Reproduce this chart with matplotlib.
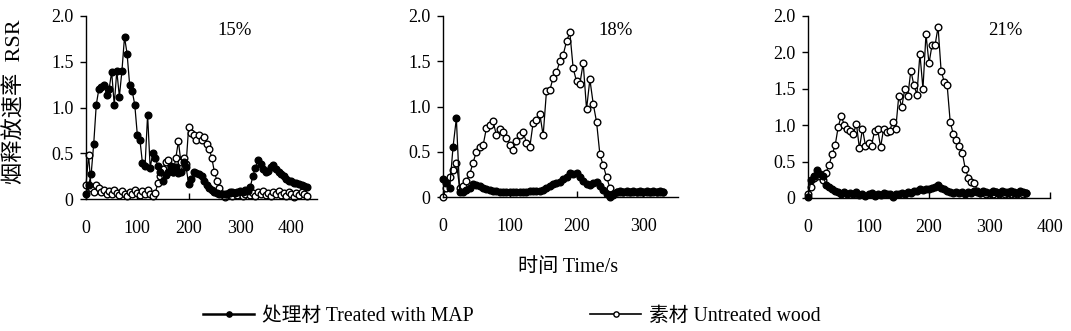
import numpy as np
import matplotlib
matplotlib.use("Agg")
import matplotlib.pyplot as plt
from matplotlib.lines import Line2D

FAM = ['Liberation Serif', 'Noto Sans CJK SC']
plt.rcParams['font.family'] = FAM

# ---------------- data ----------------
t15 = np.arange(0, 435, 5)
treated15 = [0.05, 0.15, 0.27, 0.60, 1.03, 1.20, 1.22, 1.25, 1.14, 1.20,
             1.39, 1.03, 1.40, 1.12, 1.40, 1.77, 1.59, 1.25, 1.18, 1.03,
             0.70, 0.65, 0.39, 0.36, 0.92, 0.34, 0.50, 0.45, 0.36, 0.30,
             0.20, 0.26, 0.30, 0.36, 0.30, 0.35, 0.28, 0.30, 0.40, 0.35,
             0.16, 0.22, 0.30, 0.28, 0.27, 0.25, 0.20, 0.15, 0.12, 0.10,
             0.08, 0.07, 0.06, 0.05, 0.05, 0.06, 0.07, 0.08, 0.07, 0.08,
             0.09, 0.08, 0.10, 0.09, 0.13, 0.25, 0.34, 0.43, 0.38, 0.33,
             0.30, 0.31, 0.35, 0.37, 0.33, 0.30, 0.27, 0.25, 0.22, 0.20,
             0.20, 0.18, 0.17, 0.16, 0.15, 0.14, 0.13]
untreated15 = [0.15, 0.48, 0.12, 0.08, 0.15, 0.12, 0.08, 0.10, 0.06, 0.09,
               0.05, 0.10, 0.07, 0.04, 0.09, 0.06, 0.03, 0.08, 0.05, 0.10,
               0.07, 0.04, 0.09, 0.05, 0.10, 0.06, 0.03, 0.07, 0.17, 0.25,
               0.33, 0.40, 0.43, 0.35, 0.30, 0.45, 0.63, 0.40, 0.45, 0.38,
               0.79, 0.72, 0.70, 0.65, 0.70, 0.65, 0.68, 0.60, 0.55, 0.45,
               0.30, 0.20, 0.12, 0.06, 0.02, 0.05, 0.08, 0.03, 0.07, 0.04,
               0.08, 0.03, 0.06, 0.09, 0.04, 0.07, 0.03, 0.08, 0.05, 0.09,
               0.04, 0.07, 0.03, 0.08, 0.05, 0.09, 0.04, 0.07, 0.03, 0.08,
               0.05, 0.02, 0.07, 0.04, 0.08, 0.05, 0.03]

t18 = np.arange(0, 335, 5)
treated18 = [0.20, 0.15, 0.10, 0.55, 0.87, 0.05, 0.05, 0.08, 0.10, 0.14,
             0.13, 0.12, 0.10, 0.09, 0.08, 0.07, 0.07, 0.06, 0.06, 0.06,
             0.06, 0.06, 0.06, 0.06, 0.06, 0.06, 0.07, 0.07, 0.07, 0.07,
             0.08, 0.10, 0.12, 0.14, 0.16, 0.17, 0.20, 0.22, 0.27, 0.25,
             0.27, 0.22, 0.18, 0.14, 0.13, 0.15, 0.17, 0.12, 0.08, 0.03,
             0.00, 0.03, 0.06, 0.07, 0.06, 0.07, 0.06, 0.07, 0.06, 0.07,
             0.06, 0.07, 0.06, 0.07, 0.06, 0.07, 0.06]
untreated18 = [0.00, 0.10, 0.22, 0.30, 0.38, 0.10, 0.12, 0.18, 0.25, 0.38,
               0.50, 0.55, 0.57, 0.76, 0.80, 0.84, 0.68, 0.75, 0.72, 0.65,
               0.58, 0.52, 0.62, 0.68, 0.72, 0.60, 0.55, 0.82, 0.85, 0.92,
               0.68, 1.17, 1.18, 1.32, 1.38, 1.50, 1.57, 1.72, 1.82, 1.42,
               1.28, 1.25, 1.48, 0.97, 1.30, 1.03, 0.83, 0.47, 0.35, 0.22,
               0.10, 0.02, 0.05, 0.06, 0.05, 0.06, 0.05, 0.06, 0.05, 0.06,
               0.05, 0.06, 0.05, 0.06, 0.05, 0.06, 0.05]

t21 = np.arange(0, 365, 5)
treated21 = [0.02, 0.25, 0.30, 0.38, 0.33, 0.30, 0.18, 0.15, 0.12, 0.10,
             0.08, 0.05, 0.08, 0.06, 0.07, 0.05, 0.08, 0.04, 0.06, 0.03,
             0.05, 0.07, 0.03, 0.06, 0.04, 0.07, 0.05, 0.06, 0.02, 0.06,
             0.05, 0.07, 0.06, 0.08, 0.07, 0.09, 0.10, 0.12, 0.11, 0.13,
             0.12, 0.14, 0.15, 0.18, 0.14, 0.12, 0.10, 0.08, 0.07, 0.08,
             0.07, 0.08, 0.06, 0.08, 0.07, 0.09, 0.08, 0.07, 0.09, 0.08,
             0.07, 0.09, 0.08, 0.07, 0.09, 0.08, 0.07, 0.09, 0.08, 0.07,
             0.09, 0.08, 0.07]
untreated21 = [0.05, 0.15, 0.28, 0.30, 0.30, 0.25, 0.35, 0.46, 0.60, 0.73,
               0.98, 1.13, 1.00, 0.95, 0.92, 0.88, 1.02, 0.68, 0.95, 0.72,
               0.75, 0.72, 0.92, 0.95, 0.70, 0.95, 0.90, 0.92, 1.05, 0.95,
               1.40, 1.25, 1.50, 1.40, 1.75, 1.55, 1.42, 1.98, 1.50, 2.25,
               1.85, 2.10, 2.10, 2.35, 1.75, 1.60, 1.55, 1.05, 0.88, 0.80,
               0.72, 0.62, 0.40, 0.28, 0.22, 0.20, 0.10, 0.07, 0.08, 0.06,
               0.07, 0.05, 0.08, 0.06, 0.07, 0.05, 0.08, 0.06, 0.07, 0.05,
               0.08, 0.06, 0.07]

panel_titles = ['15%', '18%', '21%']
xticks_list = [[0, 100, 200, 300, 400], [0, 100, 200, 300], [0, 100, 200, 300, 400]]
yticks_list = [[0, 0.5, 1.0, 1.5, 2.0], [0, 0.5, 1.0, 1.5, 2.0], [0, 0.5, 1.0, 1.5, 2.0, 2.5]]
ytick_labels = [['0', '0.5', '1.0', '1.5', '2.0'], ['0', '0.5', '1.0', '1.5', '2.0'],
                ['0', '0.5', '1.0', '1.5', '2.0', '2.0']]
legend_labels = ['处理材 Treated with MAP', '素材 Untreated wood']
ylabel = '烟释放速率  RSR'
xlabel = '时间 Time/s'

series = [(t15, treated15, untreated15), (t18, treated18, untreated18), (t21, treated21, untreated21)]

# ---------------- layout ----------------
W, H = 1071, 331
fig = plt.figure(figsize=(W / 100, H / 100), dpi=100)

boxes = [(86, 317, 16, 199), (443, 678, 16, 197), (808, 1050, 16, 198)]
xlims = [450, 352, 400]
ylims = [2.0, 2.0, 2.5]
title_x = [0.645, 0.736, 0.814]

fs = 13
axes = []
for i, (x0, x1, y0, y1) in enumerate(boxes):
    ax = fig.add_axes([x0 / W, 1 - y1 / H, (x1 - x0) / W, (y1 - y0) / H])
    t, tr, un = series[i]
    ax.plot(t, un, '-', color='black', lw=0.9, marker='o', ms=4.8,
            mfc='white', mec='black', mew=1.0, zorder=2, clip_on=False)
    ax.plot(t, tr, '-', color='black', lw=0.9, marker='o', ms=4.8,
            mfc='black', mec='black', mew=1.0, zorder=3, clip_on=False)
    ax.set_xlim(0, xlims[i])
    ax.set_ylim(0, ylims[i])
    ax.set_xticks(xticks_list[i])
    ax.set_yticks(yticks_list[i])
    ax.set_yticklabels(ytick_labels[i])
    for s in ['top', 'right']:
        ax.spines[s].set_visible(False)
    for s in ['left', 'bottom']:
        ax.spines[s].set_linewidth(1.0)
    ax.tick_params(axis='x', direction='in', length=4, width=1, labelsize=fs, pad=15)
    ax.tick_params(axis='y', direction='out', length=4, width=1, labelsize=fs, pad=5)
    ax.text(title_x[i], 0.92, panel_titles[i], transform=ax.transAxes,
            ha='center', va='center', fontsize=13.5, family=FAM)
    axes.append(ax)

fig.text(15 / W, 1 - 102 / H, ylabel, rotation=90, ha='center', va='center',
         fontsize=16, family=FAM)
fig.text(568 / W, 1 - 268 / H, xlabel, ha='center', va='center',
         fontsize=14.5, family=FAM)

h1 = Line2D([], [], color='black', lw=1.8, marker='o', ms=3.8, mfc='black', mec='black')
h2 = Line2D([], [], color='black', lw=1.2, marker='o', ms=3.8, mfc='white', mec='black')
fig.legend([h1, h2], legend_labels, loc='center left',
           bbox_to_anchor=(203 / W, 1 - 316 / H), ncol=2, frameon=False,
           fontsize=14.2, handlelength=2.6, handletextpad=0.4, columnspacing=5.9,
           borderaxespad=0, borderpad=0)

fig.savefig('out.png', dpi=100)
